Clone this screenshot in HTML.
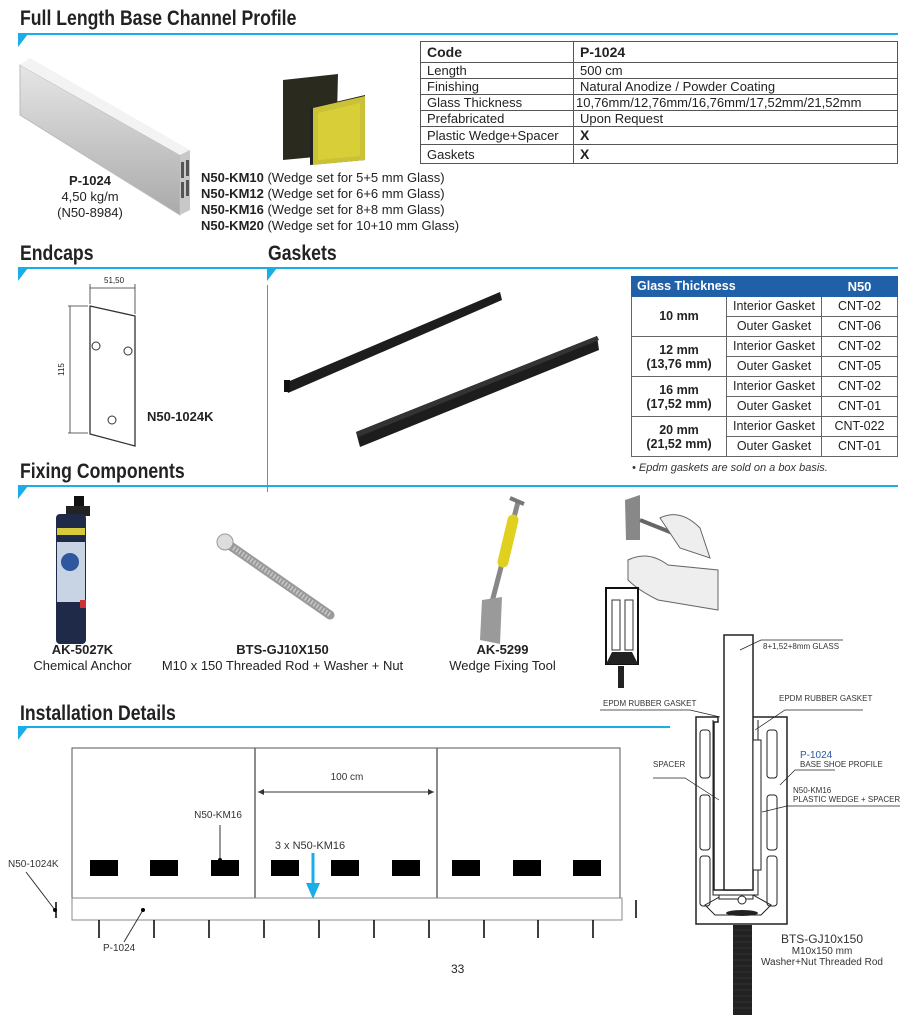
<!DOCTYPE html>
<html><head><meta charset="utf-8">
<style>
body{margin:0;background:#fff;}
#p{position:relative;width:922px;height:1015px;overflow:hidden;font-family:"Liberation Sans Narrow","Liberation Sans",sans-serif;color:#222;}
.t{position:absolute;white-space:nowrap;}
h2{position:absolute;margin:0;font-family:"Liberation Sans",sans-serif;font-size:21px;font-weight:bold;color:#222;transform:scaleX(0.84);transform-origin:0 0;white-space:nowrap;}
.ln{position:absolute;height:2px;background:#1aaee8;}
.tri{position:absolute;width:0;height:0;border-left:10px solid #1aaee8;border-bottom:13px solid transparent;}
table{border-collapse:collapse;position:absolute;}
#t1 td{border:1.5px solid #555;font-size:13px;padding:0 0 0 6px;height:15px;line-height:15px;}
#t2 td{border:1.5px solid #666;font-size:12.5px;text-align:center;height:19px;line-height:19px;padding:0;}
.c{text-align:center;}
</style></head><body><div id="p">

<h2 style="left:20px;top:7px">Full Length Base Channel Profile</h2>
<div class="ln" style="left:18px;top:33px;width:880px"></div><div class="tri" style="left:18px;top:34px"></div>

<h2 style="left:20px;top:242px">Endcaps</h2>
<h2 style="left:268px;top:242px">Gaskets</h2>
<div class="ln" style="left:18px;top:267px;width:880px"></div><div class="tri" style="left:18px;top:268px"></div><div class="tri" style="left:267px;top:268px"></div>
<div style="position:absolute;left:267px;top:285px;width:1px;height:207px;background:#1aaee8"></div>

<h2 style="left:20px;top:460px">Fixing Components</h2>
<div class="ln" style="left:18px;top:485px;width:880px"></div><div class="tri" style="left:18px;top:486px"></div>

<h2 style="left:20px;top:702px">Installation Details</h2>
<div class="ln" style="left:18px;top:726px;width:652px"></div><div class="tri" style="left:18px;top:727px"></div>

<table id="t1" style="left:420px;top:41px;width:478px">
<tr><td style="width:146px;height:20px;font-weight:bold;font-size:14px">Code</td><td style="font-weight:bold;font-size:14px">P-1024</td></tr>
<tr><td>Length</td><td>500 cm</td></tr>
<tr><td>Finishing</td><td>Natural Anodize / Powder Coating</td></tr>
<tr><td>Glass Thickness</td><td style="padding-left:2px">10,76mm/12,76mm/16,76mm/17,52mm/21,52mm</td></tr>
<tr><td>Prefabricated</td><td>Upon Request</td></tr>
<tr><td style="height:17px">Plastic Wedge+Spacer</td><td style="font-weight:bold;font-size:14px">X</td></tr>
<tr><td style="height:18px">Gaskets</td><td style="font-weight:bold;font-size:14px">X</td></tr>
</table>

<svg style="position:absolute;left:0;top:0" width="460" height="240">
<defs><linearGradient id="g1" x1="0" y1="0" x2="0" y2="1"><stop offset="0" stop-color="#e6e6e6"/><stop offset="1" stop-color="#aaa"/></linearGradient></defs>
<polygon points="20,65 180,155 180,215 20,115" fill="url(#g1)" stroke="#bbb"/>
<polygon points="20,65 30,58 190,150 180,155" fill="#f3f3f3"/>
<polygon points="180,155 190,150 190,210 180,215" fill="#c8c8c8"/>
<rect x="181" y="162" width="3" height="16" fill="#555"/><rect x="186" y="160" width="3" height="16" fill="#555"/>
<rect x="181" y="182" width="3" height="16" fill="#555"/><rect x="186" y="180" width="3" height="16" fill="#555"/>
<polygon points="283,80 338,74 336,155 283,160" fill="#2a2a1e"/>
<polygon points="310,108 365,95 365,160 310,165" fill="#222"/>
<polygon points="313,108 365,96 365,160 313,165" fill="#c9c236"/>
<polygon points="318,113 360,103 360,156 318,160" fill="#d8cf38"/>
</svg>
<div class="t c" style="left:50px;top:173px;width:80px;font-size:13px;line-height:16px"><b>P-1024</b><br>4,50 kg/m<br>(N50-8984)</div>
<div class="t" style="left:201px;top:170px;font-size:13px;line-height:16px"><b>N50-KM10</b> (Wedge set for 5+5 mm Glass)<br><b>N50-KM12</b> (Wedge set for 6+6 mm Glass)<br><b>N50-KM16</b> (Wedge set for 8+8 mm Glass)<br><b>N50-KM20</b> (Wedge set for 10+10 mm Glass)</div>

<svg style="position:absolute;left:0;top:270px" width="260" height="200">
<line x1="90" y1="18" x2="135" y2="18" stroke="#333" stroke-width="0.8"/>
<line x1="90" y1="14" x2="90" y2="34" stroke="#333" stroke-width="0.8"/><line x1="135" y1="14" x2="135" y2="44" stroke="#333" stroke-width="0.8"/>
<line x1="68" y1="36" x2="88" y2="36" stroke="#333" stroke-width="0.8"/><line x1="68" y1="163" x2="88" y2="163" stroke="#333" stroke-width="0.8"/>
<line x1="70" y1="36" x2="70" y2="163" stroke="#333" stroke-width="0.8"/>
<polygon points="90,36 135,46 135,176 90,164" fill="#fff" stroke="#333" stroke-width="1.3"/>
<circle cx="96" cy="76" r="4" fill="none" stroke="#333"/><circle cx="128" cy="81" r="4" fill="none" stroke="#333"/><circle cx="112" cy="150" r="4" fill="none" stroke="#333"/>
</svg>
<div class="t" style="left:104px;top:276px;font-size:8px">51,50</div>
<div class="t" style="left:55px;top:365px;font-size:8px;transform:rotate(-90deg)">115</div>
<div class="t" style="left:147px;top:409px;font-size:13px;font-weight:bold">N50-1024K</div>

<svg style="position:absolute;left:270px;top:280px" width="340" height="180">
<polygon points="15,103 230,12 232,20 18,113" fill="#1d1d1d"/>
<rect x="14" y="100" width="6" height="12" fill="#111"/>
<polygon points="86,152 327,56 329,70 90,167" fill="#1d1d1d"/>
<polygon points="86,152 327,56 329,60 88,157" fill="#333"/>
</svg>

<table id="t2" style="left:631px;top:276px;width:267px">
<tr style="background:#2060a8;color:#fff;font-weight:bold"><td colspan="2" style="text-align:left;padding-left:5px;border-color:#2060a8;height:17px;line-height:17px">Glass Thickness</td><td style="border-color:#2060a8;font-size:13px">N50</td></tr>
<tr><td rowspan="2" style="width:94px;font-weight:bold">10 mm</td><td style="width:94px">Interior Gasket</td><td>CNT-02</td></tr>
<tr><td>Outer Gasket</td><td>CNT-06</td></tr>
<tr><td rowspan="2" style="font-weight:bold;line-height:14px">12 mm<br>(13,76 mm)</td><td>Interior Gasket</td><td>CNT-02</td></tr>
<tr><td>Outer Gasket</td><td>CNT-05</td></tr>
<tr><td rowspan="2" style="font-weight:bold;line-height:14px">16 mm<br>(17,52 mm)</td><td>Interior Gasket</td><td>CNT-02</td></tr>
<tr><td>Outer Gasket</td><td>CNT-01</td></tr>
<tr><td rowspan="2" style="font-weight:bold;line-height:14px">20 mm<br>(21,52 mm)</td><td>Interior Gasket</td><td>CNT-022</td></tr>
<tr><td>Outer Gasket</td><td>CNT-01</td></tr>
</table>
<div class="t" style="left:632px;top:462px;font-size:11px;font-style:italic;font-family:'Liberation Sans',sans-serif;color:#333">• Epdm gaskets are sold on a box basis.</div>

<svg style="position:absolute;left:0;top:490px" width="740" height="200">
<rect x="74" y="6" width="10" height="12" fill="#111"/><rect x="66" y="16" width="24" height="10" fill="#222"/>
<rect x="56" y="24" width="30" height="130" rx="4" fill="#1e2a48"/>
<rect x="57" y="38" width="28" height="7" fill="#d6c93a"/>
<rect x="57" y="52" width="28" height="60" fill="#c8d4e4"/><circle cx="70" cy="72" r="9" fill="#2e57a0"/>
<rect x="80" y="110" width="6" height="8" fill="#c33"/>
<line x1="222" y1="50" x2="330" y2="125" stroke="#9a9a9a" stroke-width="9" stroke-linecap="round"/>
<line x1="222" y1="50" x2="330" y2="125" stroke="#c9c9c9" stroke-width="5" stroke-dasharray="1.5 2"/>
<circle cx="225" cy="52" r="8" fill="#ddd" stroke="#999"/>
<line x1="518" y1="12" x2="492" y2="112" stroke="#888" stroke-width="5"/>
<line x1="513" y1="30" x2="503" y2="72" stroke="#e0d020" stroke-width="11" stroke-linecap="round"/>
<line x1="510" y1="8" x2="524" y2="14" stroke="#777" stroke-width="4"/>
<polygon points="482,110 502,107 500,154 480,150" fill="#9a9a9a"/>
<polygon points="625,10 640,5 640,50 626,50" fill="#888"/><line x1="640" y1="30" x2="690" y2="50" stroke="#666" stroke-width="4"/>
<path d="M660,28 q20,-10 40,10 l10,30 l-30,-10 z" fill="#eee" stroke="#666"/>
<path d="M628,70 q20,-10 40,5 l50,5 l0,40 l-60,-10 q-20,-10 -30,-20 z" fill="#eee" stroke="#666"/>
<rect x="606" y="98" width="32" height="76" fill="#fff" stroke="#111" stroke-width="2"/>
<rect x="612" y="110" width="8" height="50" fill="none" stroke="#333"/><rect x="625" y="110" width="8" height="50" fill="none" stroke="#333"/>
<polygon points="606,174 638,174 632,162 612,162" fill="#222"/>
<rect x="618" y="176" width="6" height="22" fill="#222"/>
</svg>
<div class="t c" style="left:20px;top:642px;width:125px;font-size:13px;line-height:16px"><b>AK-5027K</b><br>Chemical Anchor</div>
<div class="t c" style="left:160px;top:642px;width:245px;font-size:13px;line-height:16px"><b>BTS-GJ10X150</b><br>M10 x 150 Threaded Rod + Washer + Nut</div>
<div class="t c" style="left:440px;top:642px;width:125px;font-size:13px;line-height:16px"><b>AK-5299</b><br>Wedge Fixing Tool</div>

<svg style="position:absolute;left:0;top:740px" width="660" height="220" font-family="Liberation Sans Narrow, Liberation Sans, sans-serif">
<rect x="72" y="8" width="548" height="150" fill="#fff" stroke="#555" stroke-width="1"/>
<line x1="255" y1="8" x2="255" y2="158" stroke="#666" stroke-width="1.5"/><line x1="437" y1="8" x2="437" y2="158" stroke="#666" stroke-width="1.5"/>
<rect x="72" y="158" width="550" height="22" fill="#fff" stroke="#888"/>
<g fill="#000">
<rect x="90" y="120" width="28" height="16"/><rect x="150" y="120" width="28" height="16"/><rect x="211" y="120" width="28" height="16"/>
<rect x="271" y="120" width="28" height="16"/><rect x="331" y="120" width="28" height="16"/><rect x="392" y="120" width="28" height="16"/>
<rect x="452" y="120" width="28" height="16"/><rect x="513" y="120" width="28" height="16"/><rect x="573" y="120" width="28" height="16"/>
</g>
<g stroke="#000" stroke-width="1.5">
<line x1="99" y1="180" x2="99" y2="198"/><line x1="154" y1="180" x2="154" y2="198"/><line x1="209" y1="180" x2="209" y2="198"/><line x1="264" y1="180" x2="264" y2="198"/><line x1="319" y1="180" x2="319" y2="198"/><line x1="374" y1="180" x2="374" y2="198"/><line x1="429" y1="180" x2="429" y2="198"/><line x1="484" y1="180" x2="484" y2="198"/><line x1="538" y1="180" x2="538" y2="198"/><line x1="593" y1="180" x2="593" y2="198"/>
<line x1="56" y1="162" x2="56" y2="178"/><line x1="636" y1="160" x2="636" y2="178"/>
</g>
<line x1="258" y1="52" x2="434" y2="52" stroke="#333"/>
<polygon points="258,52 264,49 264,55" fill="#333"/><polygon points="434,52 428,49 428,55" fill="#333"/>
<text x="347" y="40" font-size="10" text-anchor="middle" fill="#333">100 cm</text>
<text x="218" y="78" font-size="10" text-anchor="middle" fill="#333">N50-KM16</text>
<line x1="220" y1="85" x2="220" y2="120" stroke="#333"/><circle cx="220" cy="120" r="2"/>
<text x="310" y="109" font-size="11" text-anchor="middle" fill="#333">3 x N50-KM16</text>
<line x1="313" y1="113" x2="313" y2="145" stroke="#1aaee8" stroke-width="3"/><polygon points="306,143 320,143 313,159" fill="#1aaee8"/>
<text x="8" y="127" font-size="10" fill="#333">N50-1024K</text>
<line x1="26" y1="132" x2="55" y2="170" stroke="#333"/><circle cx="55" cy="170" r="2"/>
<line x1="143" y1="170" x2="124" y2="202" stroke="#333"/><circle cx="143" cy="170" r="2"/>
<text x="103" y="211" font-size="10" fill="#333">P-1024</text>
</svg>
<div class="t" style="left:451px;top:962px;font-size:12px">33</div>

<svg style="position:absolute;left:595px;top:630px" width="327" height="385" font-family="Liberation Sans Narrow, Liberation Sans, sans-serif">
<rect x="138" y="295" width="19" height="90" fill="#222"/>
<g stroke="#444" stroke-width="0.6"><line x1="138" y1="300" x2="157" y2="300"/><line x1="138" y1="306" x2="157" y2="306"/><line x1="138" y1="312" x2="157" y2="312"/><line x1="138" y1="318" x2="157" y2="318"/><line x1="138" y1="324" x2="157" y2="324"/><line x1="138" y1="330" x2="157" y2="330"/><line x1="138" y1="336" x2="157" y2="336"/><line x1="138" y1="342" x2="157" y2="342"/><line x1="138" y1="348" x2="157" y2="348"/><line x1="138" y1="354" x2="157" y2="354"/><line x1="138" y1="360" x2="157" y2="360"/><line x1="138" y1="366" x2="157" y2="366"/><line x1="138" y1="372" x2="157" y2="372"/><line x1="138" y1="378" x2="157" y2="378"/></g>
<path d="M101,87 h22 v5 h-4 v168 h35 v-168 h-4 v-5 h42 v207 h-91 z" fill="#fff" stroke="#222" stroke-width="1.5"/>
<path d="M118,90 v175 h45 v-175" fill="none" stroke="#222" stroke-width="1"/>
<rect x="129" y="5" width="29" height="255" fill="#fff" stroke="#222" stroke-width="1.5"/>
<rect x="158" y="110" width="8" height="130" fill="#fff" stroke="#222"/>
<g fill="none" stroke="#222" stroke-width="1">
<rect x="105" y="100" width="10" height="48" rx="3"/><rect x="105" y="165" width="10" height="55" rx="3"/><rect x="105" y="226" width="10" height="50" rx="3"/>
<rect x="172" y="100" width="10" height="48" rx="3"/><rect x="172" y="165" width="10" height="55" rx="3"/><rect x="172" y="226" width="10" height="50" rx="3"/>
<path d="M110,275 l18,-10 h30 l18,10 l-10,10 h-46 z"/>
</g>
<rect x="124" y="265" width="34" height="4" fill="#fff" stroke="#222"/>
<ellipse cx="147" cy="283" rx="16" ry="3" fill="#222"/>
<circle cx="147" cy="270" r="4" fill="#fff" stroke="#222"/>
<g stroke="#222" stroke-width="0.7" fill="none">
<polyline points="145,20 166,10 248,10"/><polyline points="125,87 95,80 5,80"/><polyline points="160,100 190,80 268,80"/>
<polyline points="124,170 90,148 58,148"/><polyline points="185,155 200,140 240,140"/><polyline points="167,182 192,176 305,176"/>
</g>
<g font-size="8" fill="#333">
<text x="168" y="19">8+1,52+8mm GLASS</text>
<text x="8" y="76">EPDM RUBBER GASKET</text>
<text x="184" y="71">EPDM RUBBER GASKET</text>
<text x="58" y="137">SPACER</text>
<text x="205" y="128" font-size="10" fill="#2a5aa0">P-1024</text>
<text x="205" y="137">BASE SHOE PROFILE</text>
<text x="198" y="163">N50-KM16</text>
<text x="198" y="172">PLASTIC WEDGE + SPACER</text>
</g>
<g fill="#333" text-anchor="middle">
<text x="227" y="313" font-size="12">BTS-GJ10x150</text>
<text x="227" y="324" font-size="10">M10x150 mm</text>
<text x="227" y="335" font-size="10">Washer+Nut Threaded Rod</text>
</g>
</svg>

</div></body></html>
